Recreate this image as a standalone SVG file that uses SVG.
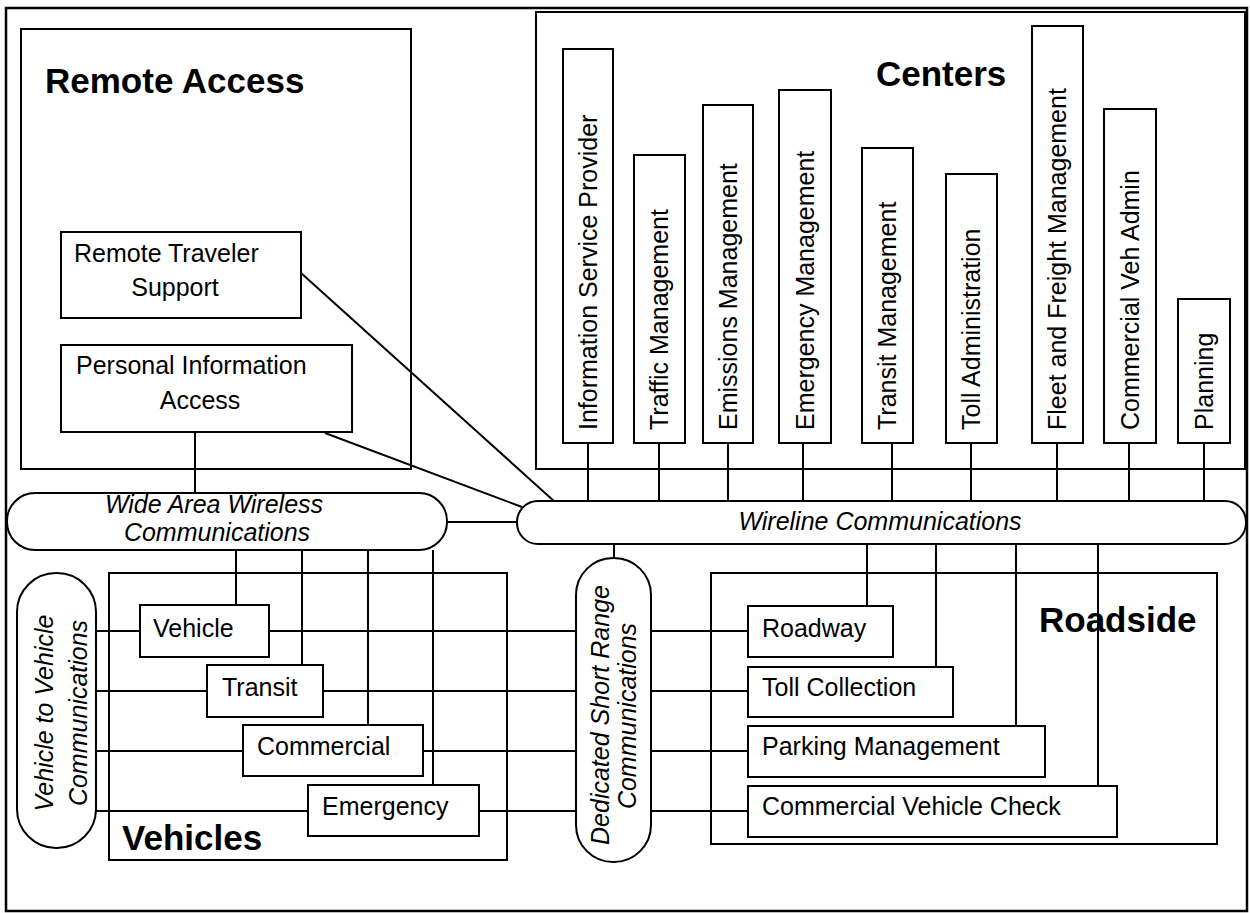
<svg xmlns="http://www.w3.org/2000/svg" width="1250" height="913" viewBox="0 0 1250 913">
  <style>
    .frame { fill: none; stroke: #000; stroke-width: 2.5; }
    .group { fill: #fff; stroke: #000; stroke-width: 2; }
    .box { fill: #fff; stroke: #000; stroke-width: 2; }
    .pill { fill: #fff; stroke: #000; stroke-width: 2; }
    .link { fill: none; stroke: #000; stroke-width: 2; }
    .lbl { font-family: "Liberation Sans", Arial, sans-serif; font-size: 25px; fill: #000; }
    .comm { font-family: "Liberation Sans", Arial, sans-serif; font-size: 25px; font-style: italic; fill: #000; }
    .title { font-family: "Liberation Sans", Arial, sans-serif; font-size: 35px; font-weight: bold; fill: #000; }
    .mid { text-anchor: middle; }
  </style>

  <rect width="1250" height="913" fill="#fff"/>

  <!-- outer frame -->
  <rect class="frame" x="6" y="8" width="1241" height="903"/>

  <!-- area containers -->
  <g id="remote-access">
    <rect class="group" x="21" y="29" width="390" height="440"/>
    <text class="title" x="45" y="93">Remote Access</text>
  </g>
  <g id="centers">
    <rect class="group" x="536" y="12" width="709" height="457"/>
    <text class="title" x="876" y="86">Centers</text>
  </g>
  <g id="vehicles">
    <rect class="group" x="109" y="573" width="398" height="287"/>
    <text class="title" x="122" y="850">Vehicles</text>
  </g>
  <g id="roadside">
    <rect class="group" x="711" y="573" width="506" height="271"/>
    <text class="title" x="1039" y="632">Roadside</text>
  </g>

  <!-- connectors -->
  <g id="connectors">
    <line class="link" x1="301" y1="273" x2="555" y2="502"/>
    <line class="link" x1="325" y1="433" x2="522" y2="507"/>
    <line class="link" x1="195" y1="432" x2="195" y2="493"/>
    <line class="link" x1="447" y1="522" x2="517" y2="522"/>
    <line class="link" x1="614" y1="544" x2="614" y2="558"/>
    <!-- centers to wireline -->
    <line class="link" x1="588" y1="443" x2="588" y2="501"/>
    <line class="link" x1="659" y1="443" x2="659" y2="501"/>
    <line class="link" x1="728" y1="443" x2="728" y2="501"/>
    <line class="link" x1="803" y1="443" x2="803" y2="501"/>
    <line class="link" x1="892" y1="443" x2="892" y2="501"/>
    <line class="link" x1="971" y1="443" x2="971" y2="501"/>
    <line class="link" x1="1057" y1="443" x2="1057" y2="501"/>
    <line class="link" x1="1129" y1="443" x2="1129" y2="501"/>
    <line class="link" x1="1204" y1="443" x2="1204" y2="501"/>
    <!-- wide area wireless to vehicles -->
    <line class="link" x1="236" y1="550" x2="236" y2="605"/>
    <line class="link" x1="302" y1="550" x2="302" y2="665"/>
    <line class="link" x1="368" y1="550" x2="368" y2="725"/>
    <line class="link" x1="433" y1="550" x2="433" y2="785"/>
    <!-- vehicle to vehicle -->
    <line class="link" x1="96" y1="631" x2="140" y2="631"/>
    <line class="link" x1="96" y1="691" x2="207" y2="691"/>
    <line class="link" x1="96" y1="751" x2="243" y2="751"/>
    <line class="link" x1="96" y1="811" x2="308" y2="811"/>
    <!-- vehicles to DSRC -->
    <line class="link" x1="269" y1="631" x2="576" y2="631"/>
    <line class="link" x1="323" y1="691" x2="576" y2="691"/>
    <line class="link" x1="423" y1="751" x2="576" y2="751"/>
    <line class="link" x1="479" y1="811" x2="576" y2="811"/>
    <!-- DSRC to roadside -->
    <line class="link" x1="651" y1="631" x2="748" y2="631"/>
    <line class="link" x1="651" y1="691" x2="748" y2="691"/>
    <line class="link" x1="651" y1="751" x2="748" y2="751"/>
    <line class="link" x1="651" y1="811" x2="748" y2="811"/>
    <!-- wireline to roadside -->
    <line class="link" x1="867" y1="544" x2="867" y2="606"/>
    <line class="link" x1="936" y1="544" x2="936" y2="667"/>
    <line class="link" x1="1016" y1="544" x2="1016" y2="726"/>
    <line class="link" x1="1098" y1="544" x2="1098" y2="786"/>
  </g>

  <!-- remote access nodes -->
  <g id="remote-traveler-support">
    <rect class="box" x="61" y="232" width="240" height="86"/>
    <text class="lbl" x="74" y="262">Remote Traveler</text>
    <text class="lbl mid" x="175" y="296">Support</text>
  </g>
  <g id="personal-information-access">
    <rect class="box" x="61" y="345" width="291" height="87"/>
    <text class="lbl" x="76" y="374">Personal Information</text>
    <text class="lbl mid" x="200" y="409">Access</text>
  </g>

  <!-- center nodes -->
  <g id="information-service-provider">
    <rect class="box" x="563" y="49" width="50" height="394"/>
    <text class="lbl" x="597" y="430" transform="rotate(-90 597 430)">Information Service Provider</text>
  </g>
  <g id="traffic-management">
    <rect class="box" x="634" y="155" width="51" height="288"/>
    <text class="lbl" x="668" y="430" transform="rotate(-90 668 430)">Traffic Management</text>
  </g>
  <g id="emissions-management">
    <rect class="box" x="703" y="105" width="50" height="338"/>
    <text class="lbl" x="737" y="430" transform="rotate(-90 737 430)">Emissions Management</text>
  </g>
  <g id="emergency-management">
    <rect class="box" x="779" y="90" width="52" height="353"/>
    <text class="lbl" x="814" y="430" transform="rotate(-90 814 430)">Emergency Management</text>
  </g>
  <g id="transit-management">
    <rect class="box" x="862" y="148" width="51" height="295"/>
    <text class="lbl" x="896" y="430" transform="rotate(-90 896 430)">Transit Management</text>
  </g>
  <g id="toll-administration">
    <rect class="box" x="946" y="174" width="51" height="269"/>
    <text class="lbl" x="980" y="430" transform="rotate(-90 980 430)">Toll Administration</text>
  </g>
  <g id="fleet-freight-management">
    <rect class="box" x="1032" y="26" width="51" height="417"/>
    <text class="lbl" x="1066" y="430" transform="rotate(-90 1066 430)">Fleet and Freight Management</text>
  </g>
  <g id="commercial-veh-admin">
    <rect class="box" x="1104" y="109" width="52" height="334"/>
    <text class="lbl" x="1139" y="430" transform="rotate(-90 1139 430)">Commercial Veh Admin</text>
  </g>
  <g id="planning">
    <rect class="box" x="1178" y="299" width="52" height="144"/>
    <text class="lbl" x="1213" y="430" transform="rotate(-90 1213 430)">Planning</text>
  </g>

  <!-- communication media -->
  <g id="wide-area-wireless">
    <rect class="pill" x="7" y="493" width="440" height="57" rx="28" ry="28"/>
    <text class="comm mid" x="214" y="513">Wide Area Wireless</text>
    <text class="comm mid" x="217" y="541">Communications</text>
  </g>
  <g id="wireline">
    <rect class="pill" x="517" y="501" width="729" height="43" rx="21" ry="21"/>
    <text class="comm mid" x="880" y="530">Wireline Communications</text>
  </g>
  <g id="vehicle-to-vehicle">
    <rect class="pill" x="17" y="573" width="79" height="275" rx="39" ry="39"/>
    <text class="comm mid" x="53" y="713" transform="rotate(-90 53 713)">Vehicle to Vehicle</text>
    <text class="comm mid" x="87" y="713" transform="rotate(-90 87 713)">Communications</text>
  </g>
  <g id="dedicated-short-range">
    <rect class="pill" x="576" y="558" width="75" height="304" rx="37" ry="37"/>
    <text class="comm mid" x="609" y="715" transform="rotate(-90 609 715)">Dedicated Short Range</text>
    <text class="comm mid" x="636" y="716" transform="rotate(-90 636 716)">Communications</text>
  </g>

  <!-- vehicle nodes -->
  <g id="vehicle">
    <rect class="box" x="140" y="605" width="129" height="52"/>
    <text class="lbl" x="153" y="637">Vehicle</text>
  </g>
  <g id="transit">
    <rect class="box" x="207" y="665" width="116" height="52"/>
    <text class="lbl" x="222" y="696">Transit</text>
  </g>
  <g id="commercial">
    <rect class="box" x="243" y="725" width="180" height="51"/>
    <text class="lbl" x="257" y="755">Commercial</text>
  </g>
  <g id="emergency">
    <rect class="box" x="308" y="785" width="171" height="51"/>
    <text class="lbl" x="322" y="815">Emergency</text>
  </g>

  <!-- roadside nodes -->
  <g id="roadway">
    <rect class="box" x="748" y="606" width="145" height="51"/>
    <text class="lbl" x="762" y="637">Roadway</text>
  </g>
  <g id="toll-collection">
    <rect class="box" x="748" y="667" width="205" height="50"/>
    <text class="lbl" x="762" y="696">Toll Collection</text>
  </g>
  <g id="parking-management">
    <rect class="box" x="748" y="726" width="297" height="51"/>
    <text class="lbl" x="762" y="755">Parking Management</text>
  </g>
  <g id="commercial-vehicle-check">
    <rect class="box" x="748" y="786" width="369" height="51"/>
    <text class="lbl" x="762" y="815">Commercial Vehicle Check</text>
  </g>
</svg>
